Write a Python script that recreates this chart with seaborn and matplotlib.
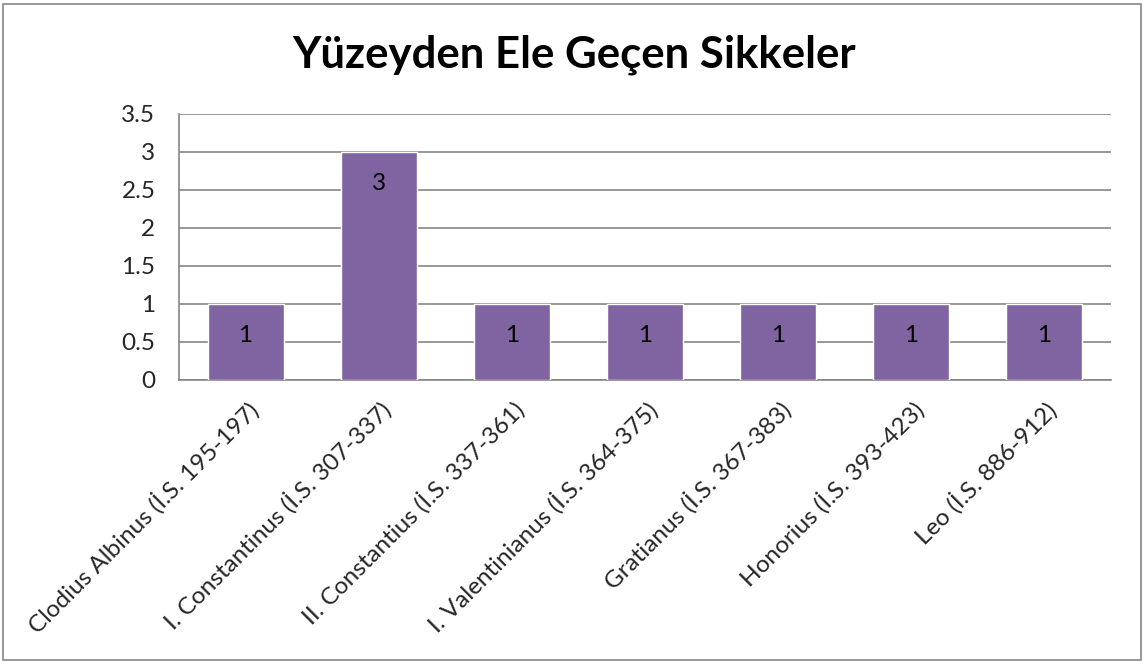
import seaborn as sns
import matplotlib.pyplot as plt
import matplotlib.transforms as mtransforms
import pandas as pd
from matplotlib.patches import Rectangle

emperors = ['Clodius Albinus (İ.S. 195-197)', 'I. Constantinus (İ.S. 307-337)',
            'II. Constantius (İ.S. 337-361)', 'I. Valentinianus (İ.S. 364-375)',
            'Gratianus (İ.S. 367-383)', 'Honorius (İ.S. 393-423)', 'Leo (İ.S. 886-912)']
counts = [1, 3, 1, 1, 1, 1, 1]
yticks = [0, 0.5, 1, 1.5, 2, 2.5, 3, 3.5]

df = pd.DataFrame({'emperor': emperors, 'count': counts})

sns.set_style('white')
plt.rcParams['font.family'] = ['Lato', 'DejaVu Sans']

fig = plt.figure(figsize=(11.47, 6.66), dpi=100)
ax = fig.add_axes([179 / 1147, 1 - 380 / 666, 932 / 1147, 266 / 666])

sns.barplot(data=df, x='emperor', y='count', color='#8064A2', width=0.57,
            saturation=1, ax=ax, zorder=3)

ax.set_ylim(0, 3.5)
ax.set_yticks(yticks)
ax.set_yticklabels([f'{t:g}' for t in yticks], fontsize=17.5)
ax.yaxis.grid(True, color='#868686', linewidth=1.2, zorder=0)
ax.set_axisbelow(True)
ax.set_xlabel('')
ax.set_ylabel('')
for s in ['top', 'right']:
    ax.spines[s].set_visible(False)
for s in ['left', 'bottom']:
    ax.spines[s].set_color('#868686')
    ax.spines[s].set_linewidth(1.2)
ax.tick_params(axis='both', length=0)
ax.tick_params(axis='y', pad=17)
ax.set_xticks(range(len(emperors)))
ax.set_xticklabels(emperors, rotation=45, ha='right', va='top',
                   rotation_mode='anchor', fontsize=17.5)
shift = mtransforms.ScaledTranslation(0.0, -0.12, fig.dpi_scale_trans)
for lab in ax.get_xticklabels():
    lab.set_transform(lab.get_transform() + shift)

# value labels inside the bars
ax.bar_label(ax.containers[0], labels=[str(c) for c in counts], label_type='edge',
             padding=-30, fontsize=17.5, color='black')

fig.text(574 / 1147, 1 - 55 / 666, 'Yüzeyden Ele Geçen Sikkeler', ha='center', va='center',
         fontsize=31.5, fontweight='bold', color='black')

fig.patches.append(Rectangle((3 / 1147, 6 / 666), 1138 / 1147, 656 / 666, transform=fig.transFigure,
                             fill=False, edgecolor='#868686', linewidth=1.2))

fig.savefig('out.png', dpi=100)
